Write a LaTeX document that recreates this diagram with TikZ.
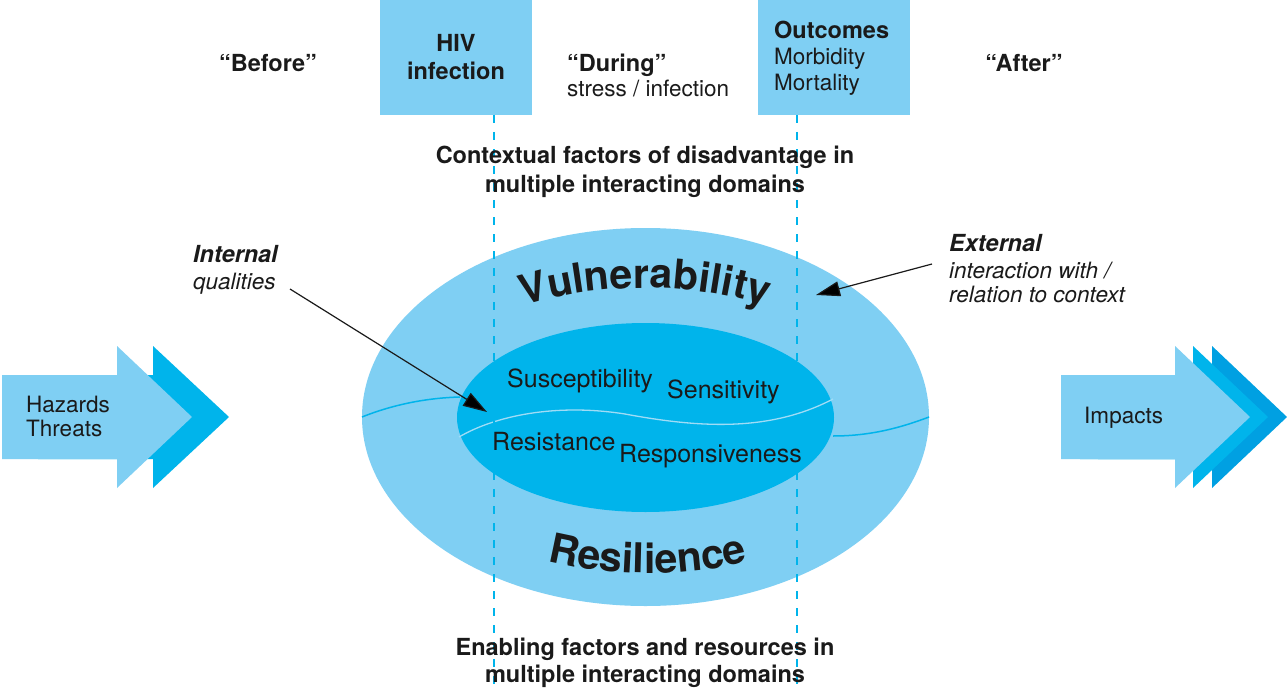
\documentclass[tikz,border=0pt]{standalone}
\usepackage{fontspec}
\setmainfont{TeX Gyre Heros}
\usetikzlibrary{shapes.geometric,arrows.meta,decorations.text}
\definecolor{lb}{HTML}{7FCFF3}
\definecolor{cy}{HTML}{00B4EB}
\definecolor{dk}{HTML}{00A0E2}
\definecolor{wv}{HTML}{A0DCF6}
\definecolor{txt}{HTML}{1A1A1A}
\tikzset{
 reg/.style={font=\fontsize{22.5}{27}\selectfont, text=txt, inner sep=0pt},
 regit/.style={font=\fontsize{22.5}{27}\selectfont\itshape, text=txt, inner sep=0pt},
 bld/.style={font=\fontsize{23.5}{28}\selectfont\bfseries, text=txt, inner sep=0pt},
 bldit/.style={font=\fontsize{23.5}{28}\selectfont\bfseries\itshape, text=txt, inner sep=0pt},
 inn/.style={font=\fontsize{25}{30}\selectfont, text=txt, inner sep=0pt},
 topbox/.style={fill=lb, draw=none, inner sep=0pt, minimum width=152pt, minimum height=115pt, anchor=north west},
 guide/.style={draw=cy, line width=1.3pt, dash pattern=on 8pt off 9pt},
 pointer/.style={draw=txt, line width=1.2pt, -{Triangle[length=24pt,width=15pt]}},
 wave/.style={draw=cy, line width=1.5pt},
}
\begin{document}
\begin{tikzpicture}[x=1pt,y=-1pt]
\useasboundingbox (0,0) rectangle (1287,690);
\fill[white] (0,0) rectangle (1287,690);

% top boxes
\node[topbox] (hivbox) at (380,0) {};
\node[topbox] (outbox) at (758,0) {};

% big ellipses
\node[ellipse, fill=lb, minimum width=567pt, minimum height=378pt, inner sep=0pt] (outer) at (645.5,417) {};
\coordinate (lwA) at (362,417);
\coordinate (lwB) at (460,397);
\coordinate (rwA) at (833,436);
\coordinate (rwB) at (929,417);
\draw[wave] (lwA) .. controls (392,405) and (425,398) .. (lwB);
\draw[wave] (rwA) .. controls (870,436) and (900,428) .. (rwB);
\node[ellipse, fill=cy, minimum width=377pt, minimum height=189pt, inner sep=0pt] (inner) at (645.5,417.5) {};
\coordinate (iwA) at (459,437);
\coordinate (iwB) at (833,399);
\draw[draw=wv, line width=1.3pt] (iwA) .. controls (495,416) and (555,403) .. (625,414) .. controls (700,428) and (770,432) .. (iwB);

% guide lines
\coordinate (g1a) at (494,115);
\coordinate (g1b) at (494,690);
\coordinate (g2a) at (797,115);
\coordinate (g2b) at (797,690);
\draw[guide] (g1a) -- (g1b);
\draw[guide] (g2a) -- (g2b);

% big arrows left
\fill[cy] (38,375) -- (153,375) -- (153,346) -- (229,417) -- (153,488) -- (153,459) -- (38,459) -- cycle;
\fill[lb] (2,375) -- (117,375) -- (117,346) -- (192,417) -- (117,488) -- (117,459) -- (2,459) -- cycle;
% big arrows right
\fill[dk] (1098,375) -- (1212,375) -- (1212,346) -- (1287,417) -- (1212,488) -- (1212,459) -- (1098,459) -- cycle;
\fill[cy] (1080,375) -- (1193,375) -- (1193,346) -- (1268,417) -- (1193,488) -- (1193,459) -- (1080,459) -- cycle;
\fill[lb] (1061,375) -- (1175,375) -- (1175,346) -- (1250,417) -- (1175,488) -- (1175,459) -- (1061,459) -- cycle;

\node[reg, anchor=base west] (haz) at (26,412) {Hazards};
\node[reg, anchor=base west] (thr) at (26,436) {Threats};
\node[reg, anchor=base west] (imp) at (1084,423) {Impacts};

% top texts
\node[bld, anchor=base] (before) at (268,72) {“Before”};
\node[bld, anchor=base] (hiv1) at (456,52) {HIV};
\node[bld, anchor=base] (hiv2) at (456,80) {infection};
\node[bld, anchor=base west] (during) at (567,72) {“During”};
\node[reg, anchor=base west] (stress) at (567,97) {stress / infection};
\node[bld, anchor=base west] (outc) at (774,39) {Outcomes};
\node[reg, anchor=base west] (morb) at (774,65) {Morbidity};
\node[reg, anchor=base west] (mort) at (774,91) {Mortality};
\node[bld, anchor=base] (after) at (1024,72) {“After”};

\node[bld, anchor=base] (ctx1) at (645,163) {Contextual factors of disadvantage in};
\node[bld, anchor=base] (ctx2) at (645,192) {multiple interacting domains};
\node[bld, anchor=base] (en1) at (645,655) {Enabling factors and resources in};
\node[bld, anchor=base] (en2) at (645,682) {multiple interacting domains};

\node[bldit, anchor=base west] (int1) at (193,262) {Internal};
\node[regit, anchor=base west] (int2) at (193,289) {qualities};
\node[bldit, anchor=base west] (ext1) at (949,251) {External};
\node[regit, anchor=base west] (ext2) at (949,278) {interaction with /};
\node[regit, anchor=base west] (ext3) at (949,302) {relation to context};

% inner texts
\node[inn, anchor=base west] (sus) at (507,387) {Susceptibility};
\node[inn, anchor=base west] (sen) at (667,398) {Sensitivity};
\node[inn, anchor=base west] (res) at (492,450) {Resistance};
\node[inn, anchor=base west] (rsp) at (619,462) {Responsiveness};

% curved titles
\path[decorate, decoration={text along path, text align=center, text color=txt,
  text={|\fontsize{41}{41}\selectfont\bfseries|Vulnerability}}]
  (505,312) .. controls (590,280) and (700,280) .. (785,312);
\path[decorate, decoration={text along path, text align=center, text color=txt,
  text={|\fontsize{41}{41}\selectfont\bfseries|Resilience}}]
  (520,553) .. controls (600,580) and (700,580) .. (775,553);

% pointers
\coordinate (intS) at (290,289);
\coordinate (intE) at (487,412);
\coordinate (extS) at (932,264);
\coordinate (extE) at (816,295);
\draw[pointer] (intS) -- (intE);
\draw[pointer] (extS) -- (extE);
\end{tikzpicture}
\end{document}
